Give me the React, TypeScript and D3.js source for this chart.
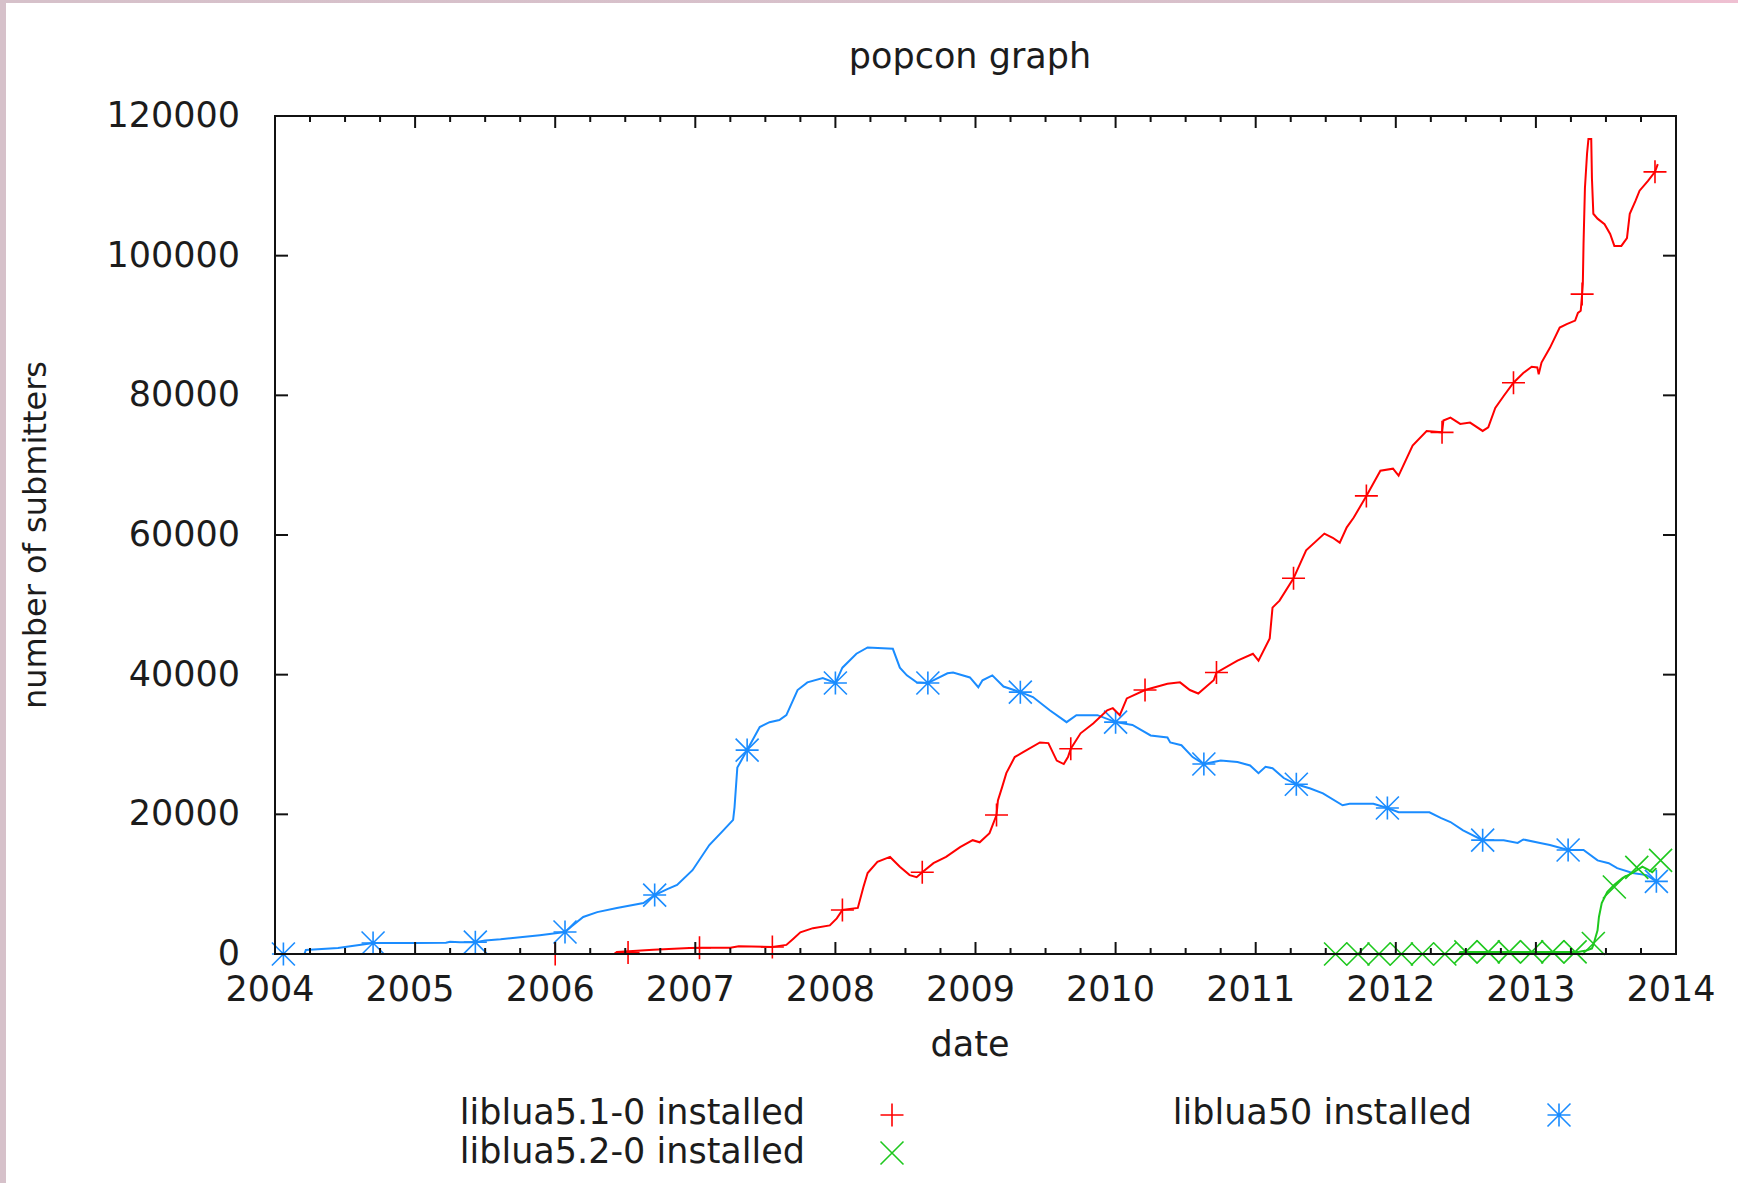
import React from 'react';
import * as d3 from 'd3';

const titleText = 'popcon graph';
const xLabelText = 'date';
const yLabelText = 'number of submitters';
const yearTicks = [2004, 2005, 2006, 2007, 2008, 2009, 2010, 2011, 2012, 2013, 2014];
const valueTicks = [0, 20000, 40000, 60000, 80000, 100000, 120000];
const seriesNames = ['liblua5.1-0 installed', 'liblua5.2-0 installed', 'liblua50 installed'];
const seriesColors = ['#ff0000', '#1ec81e', '#1a8cff'];

// liblua5.1-0 (red, +)
const lua51Line: [number, number][] = [
  [2006.00, 0], [2006.42, 0], [2006.44, 300], [2006.70, 600], [2006.96, 850], [2007.05, 900], [2007.25, 900],
  [2007.31, 1100], [2007.55, 1000], [2007.65, 1300], [2007.70, 2200], [2007.75, 3100], [2007.84, 3700],
  [2007.96, 4100], [2008.01, 5100], [2008.05, 6300], [2008.16, 6600], [2008.20, 9600], [2008.23, 11600],
  [2008.30, 13200], [2008.39, 13900], [2008.46, 12500], [2008.53, 11300], [2008.58, 11000], [2008.62, 11700],
  [2008.70, 13000], [2008.79, 13900], [2008.89, 15300], [2008.98, 16300], [2009.03, 16000], [2009.10, 17300],
  [2009.15, 19900], [2009.16, 22000], [2009.19, 23900], [2009.22, 25900], [2009.28, 28200], [2009.34, 28900],
  [2009.46, 30300], [2009.52, 30200], [2009.58, 27700], [2009.63, 27200], [2009.66, 28200], [2009.68, 29400],
  [2009.75, 31600], [2009.84, 33000], [2009.94, 34900], [2009.98, 35200], [2010.03, 34200], [2010.08, 36600],
  [2010.21, 37800], [2010.37, 38700], [2010.46, 38900], [2010.53, 37800], [2010.59, 37300], [2010.70, 39200],
  [2010.72, 40300], [2010.87, 42000], [2010.98, 43000], [2011.02, 42000], [2011.10, 45200], [2011.12, 49600],
  [2011.17, 50600], [2011.27, 53800], [2011.36, 57800], [2011.49, 60200], [2011.55, 59600], [2011.60, 58900],
  [2011.65, 61100], [2011.70, 62500], [2011.79, 65600], [2011.89, 69200], [2011.98, 69500], [2012.02, 68500],
  [2012.12, 72800], [2012.22, 74900], [2012.33, 74700], [2012.34, 76400], [2012.39, 76800], [2012.46, 75900],
  [2012.53, 76100], [2012.62, 74900], [2012.66, 75400], [2012.71, 78200], [2012.77, 79900], [2012.84, 81800],
  [2012.91, 83200], [2012.97, 84100], [2013.01, 84000], [2013.02, 83000], [2013.04, 84700], [2013.10, 86800],
  [2013.17, 89700], [2013.22, 90200], [2013.28, 90700], [2013.30, 91800], [2013.32, 92100], [2013.33, 94500],
  [2013.335, 96000], [2013.34, 101700], [2013.35, 109700], [2013.365, 114600], [2013.375, 116700],
  [2013.395, 116700], [2013.40, 111100], [2013.41, 106000], [2013.44, 105300], [2013.49, 104500],
  [2013.53, 103100], [2013.56, 101400], [2013.61, 101400], [2013.65, 102500], [2013.67, 106000],
  [2013.71, 107800], [2013.74, 109300], [2013.80, 110700], [2013.85, 112000], [2013.87, 113100],
];
const lua51Marks: [number, number][] = [
  [2006.00, 0], [2006.52, 200], [2007.03, 900], [2007.55, 1000], [2008.05, 6300], [2008.62, 11700],
  [2009.15, 19900], [2009.68, 29400], [2010.21, 37800], [2010.72, 40300], [2011.27, 53800], [2011.79, 65600],
  [2012.33, 74700], [2012.84, 81800], [2013.33, 94500], [2013.85, 112000],
];

// liblua5.2-0 (green, x)
const lua52Line: [number, number][] = [
  [2011.57, 0], [2012.45, 0], [2012.46, 300], [2013.30, 300], [2013.36, 500], [2013.40, 800], [2013.41, 1300],
  [2013.44, 3400], [2013.45, 5300], [2013.47, 7300], [2013.51, 8900], [2013.56, 9900], [2013.62, 10900],
  [2013.69, 11600], [2013.76, 12500], [2013.80, 12100], [2013.83, 11700], [2013.86, 12300],
];
const lua52Marks: [number, number][] = [
  [2011.57, 0], [2011.73, 0], [2011.88, 0], [2012.04, 0], [2012.19, 0], [2012.35, 0], [2012.50, 300],
  [2012.66, 300], [2012.81, 300], [2012.97, 300], [2013.12, 300], [2013.28, 300], [2013.41, 1500],
  [2013.56, 9600], [2013.72, 12400], [2013.89, 13400],
];

// liblua50 (blue, *)
const lua50Line: [number, number][] = [
  [2004.03, 0], [2004.21, 0], [2004.22, 570], [2004.45, 860], [2004.55, 1140], [2004.64, 1400], [2004.70, 1570],
  [2005.00, 1580], [2005.22, 1600], [2005.25, 1750], [2005.32, 1700], [2005.43, 1700], [2005.50, 1950],
  [2005.61, 2100], [2005.75, 2400], [2005.89, 2700], [2006.07, 3150], [2006.12, 4000], [2006.20, 5300],
  [2006.30, 6000], [2006.44, 6600], [2006.63, 7300], [2006.71, 8440], [2006.80, 9300], [2006.87, 9900],
  [2006.98, 12000], [2007.10, 15600], [2007.20, 17700], [2007.27, 19200], [2007.28, 21000], [2007.30, 26700],
  [2007.37, 29200], [2007.46, 32500], [2007.53, 33200], [2007.60, 33500], [2007.65, 34200], [2007.73, 37800],
  [2007.80, 38900], [2007.91, 39500], [2008.00, 38800], [2008.05, 41000], [2008.15, 43000], [2008.23, 43900],
  [2008.41, 43700], [2008.46, 41000], [2008.51, 39900], [2008.58, 38900], [2008.66, 38800], [2008.80, 40200],
  [2008.84, 40300], [2008.96, 39600], [2009.02, 38200], [2009.05, 39200], [2009.12, 39900], [2009.20, 38300],
  [2009.32, 37500], [2009.41, 36800], [2009.53, 34900], [2009.65, 33200], [2009.72, 34200], [2009.87, 34200],
  [2010.00, 33200], [2010.12, 32800], [2010.25, 31300], [2010.37, 31000], [2010.39, 30300], [2010.47, 29900],
  [2010.55, 28200], [2010.63, 27200], [2010.75, 27700], [2010.87, 27500], [2010.96, 27000], [2011.02, 25900],
  [2011.07, 26800], [2011.12, 26600], [2011.20, 25200], [2011.29, 24300], [2011.39, 23700], [2011.48, 23000],
  [2011.62, 21300], [2011.67, 21500], [2011.84, 21500], [2011.94, 20900], [2012.02, 20300], [2012.24, 20300],
  [2012.32, 19500], [2012.39, 18900], [2012.48, 17700], [2012.62, 16300], [2012.77, 16300], [2012.87, 15900],
  [2012.91, 16400], [2013.03, 15900], [2013.10, 15600], [2013.23, 14900], [2013.34, 14900], [2013.44, 13400],
  [2013.52, 13000], [2013.58, 12300], [2013.69, 11600], [2013.79, 11300], [2013.86, 10400],
];
const lua50Marks: [number, number][] = [
  [2004.06, 0], [2004.70, 1570], [2005.43, 1700], [2006.07, 3150], [2006.71, 8440], [2007.37, 29200],
  [2008.00, 38800], [2008.66, 38800], [2009.32, 37500], [2010.00, 33200], [2010.63, 27200], [2011.29, 24300],
  [2011.94, 20900], [2012.62, 16300], [2013.23, 14900], [2013.86, 10400],
];

const FONT = "'DejaVu Sans', sans-serif";
const TEXT = '#1c1c1c';

function markerPath(kind: string, s: number) {
  const plus = `M${-s},0H${s}M0,${-s}V${s}`;
  const cross = `M${-s},${-s}L${s},${s}M${-s},${s}L${s},${-s}`;
  if (kind === 'plus') return plus;
  if (kind === 'cross') return cross;
  return plus + cross;
}

export default function App() {
  const W = 1738, H = 1183;
  const L = 275, R = 1676, T = 116, B = 954;
  const x = d3.scaleLinear().domain([yearTicks[0], yearTicks[yearTicks.length - 1]]).range([L, R]);
  const y = d3.scaleLinear().domain([valueTicks[0], valueTicks[valueTicks.length - 1]]).range([B, T]);
  const line = d3.line<[number, number]>().x(d => x(d[0])).y(d => y(d[1]));
  const minor = d3.range(yearTicks[0], yearTicks[yearTicks.length - 1], 0.25).filter(v => Math.abs(v - Math.round(v)) > 1e-6);

  const series = [
    { line: lua51Line, marks: lua51Marks, color: seriesColors[0], kind: 'plus' },
    { line: lua52Line, marks: lua52Marks, color: seriesColors[1], kind: 'cross' },
    { line: lua50Line, marks: lua50Marks, color: seriesColors[2], kind: 'star' },
  ];
  const drawOrder = [2, 0, 1];
  const ms = 11.5;
  const FS = 35;

  const legend = [
    { name: seriesNames[0], color: seriesColors[0], kind: 'plus', tx: 805, ty: 1124, mx: 892, my: 1115 },
    { name: seriesNames[1], color: seriesColors[1], kind: 'cross', tx: 805, ty: 1163, mx: 892, my: 1153 },
    { name: seriesNames[2], color: seriesColors[2], kind: 'star', tx: 1472, ty: 1124, mx: 1559, my: 1115 },
  ];

  return (
    <svg width={W} height={H} style={{ position: 'absolute', left: 0, top: 0, background: '#fff' }}
      fontFamily={FONT}>
      <defs>
        <linearGradient id="topBorder" x1="0" x2="1" y1="0" y2="0">
          <stop offset="0" stopColor="#d6c1ca" />
          <stop offset="0.8" stopColor="#d9c0cb" />
          <stop offset="1" stopColor="#efc0d2" />
        </linearGradient>
      </defs>
      <rect x={0} y={0} width={W} height={H} fill="#ffffff" />
      <rect x={0} y={0} width={W} height={3} fill="url(#topBorder)" />
      <rect x={0} y={0} width={6} height={H} fill="#d6c1ca" />

      <text x={970} y={68} textAnchor="middle" fontSize={FS} fill={TEXT}>{titleText}</text>
      <text x={970} y={1056} textAnchor="middle" fontSize={FS} fill={TEXT}>{xLabelText}</text>
      <text transform={`translate(46, ${(T + B) / 2}) rotate(-90)`} textAnchor="middle" fontSize={32} fill={TEXT}>{yLabelText}</text>

      {valueTicks.map(v => (
        <text key={'yl' + v} x={240} y={y(v) + 11} textAnchor="end" fontSize={FS} fill={TEXT}>{d3.format('d')(v)}</text>
      ))}
      {yearTicks.map(v => (
        <text key={'xl' + v} x={x(v) - 5} y={1001} textAnchor="middle" fontSize={FS} fill={TEXT}>{String(v)}</text>
      ))}

      {drawOrder.map(i => {
        const s = series[i];
        return (
          <g key={'s' + i}>
            <path d={line(s.line) || ''} fill="none" stroke={s.color} strokeWidth={2} strokeLinejoin="miter" />
            {s.marks.map((m, j) => (
              <path key={j} d={markerPath(s.kind, ms)} transform={`translate(${x(m[0])},${y(m[1])})`}
                fill="none" stroke={s.color} strokeWidth={1.6} />
            ))}
          </g>
        );
      })}

      <g stroke="#111" strokeWidth={2} fill="none">
        {valueTicks.map(v => (
          <g key={'yt' + v}>
            <line x1={L} x2={L + 13} y1={y(v)} y2={y(v)} />
            <line x1={R} x2={R - 13} y1={y(v)} y2={y(v)} />
          </g>
        ))}
        {yearTicks.map(v => (
          <g key={'xt' + v}>
            <line x1={x(v)} x2={x(v)} y1={B} y2={B - 12} />
            <line x1={x(v)} x2={x(v)} y1={T} y2={T + 12} />
          </g>
        ))}
        {minor.map(v => (
          <g key={'mt' + v}>
            <line x1={x(v)} x2={x(v)} y1={B} y2={B - 6} />
            <line x1={x(v)} x2={x(v)} y1={T} y2={T + 6} />
          </g>
        ))}
        <rect x={L} y={T} width={R - L} height={B - T} />
      </g>

      {legend.map(l => (
        <g key={l.name}>
          <text x={l.tx} y={l.ty} textAnchor="end" fontSize={FS} fill={TEXT}>{l.name}</text>
          <path d={markerPath(l.kind, ms)} transform={`translate(${l.mx},${l.my})`} fill="none" stroke={l.color} strokeWidth={1.6} />
        </g>
      ))}
    </svg>
  );
}
